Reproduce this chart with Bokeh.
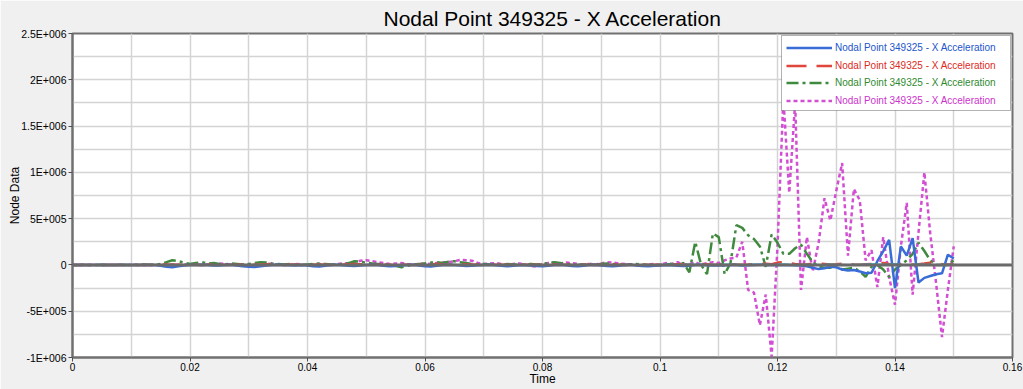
from bokeh.plotting import figure
from bokeh.models import Range1d, FixedTicker, Span, Legend, LegendItem, BoxAnnotation
from bokeh.embed import file_html
from bokeh.resources import INLINE

# ---------------- data (values in thousands) ----------------
time = [round(i * 0.001, 3) for i in range(151)]

blue_k = [
    0, 0, 0, 0, 0, 0, 0, 0, 0, 0,
    0, 0, 0, 0, 0, -10, -20, -25, -15, -5,
    0, 0, 3, 0, -5, -5, 0, 2, -5, -15,
    -20, -22, -15, -5, 0, 2, 0, -3, -5, 0,
    -5, -15, -18, -10, 0, 3, -3, -10, -12, -5,
    0, 2, 0, -8, -15, -12, -5, 0, 3, -5,
    -15, -18, -10, 0, 2, 0, -5, -12, -10, -3,
    0, 2, -3, -10, -15, -10, -3, 0, -5, -12,
    -15, -8, 0, 2, -3, -12, -15, -8, 0, 2,
    -5, -12, -15, -8, 0, 2, -5, -12, -15, -10,
    -5, 0, -3, -10, -12, -8, 0, 2, -3, -5,
    -5, -3, 0, -2, -5, -3, 0, 2, 0, -2,
    0, 2, 0, -3, -5, -15, -30, -45, -35, -20,
    -25, -50, -60, -55, -70, -90, -85, 40, 150, 270,
    -250, 200, 100, 290, -190, -140, -120, -100, -90, 110,
    70,
]

red_k = [
    0, 0, 0, 0, 0, 0, 0, 0, 0, 0,
    0, 0, 0, 0, 0, 2, 5, 3, 2, 0,
    3, 2, 0, 2, 5, 3, 0, 2, 3, 2,
    0, 2, 5, 8, 5, 2, 0, 3, 2, 0,
    2, 3, 5, 3, 0, 2, 5, 8, 10, 8,
    5, 3, 2, 0, 2, 3, 5, 3, 0, 2,
    5, 8, 10, 8, 5, 3, 5, 8, 5, 2,
    0, 2, 3, 2, 0, 2, 5, 3, 0, 2,
    3, 5, 8, 5, 3, 0, 2, 3, 2, 0,
    2, 3, 5, 3, 0, 2, 3, 2, 0, 2,
    0, 3, 5, 8, 5, 2, 5, 10, 8, 3,
    5, 8, 10, 5, 3, 5, 8, 10, 12, 8,
    25, 30, 20, 10, 5, 8, 12, 15, 10, 5,
    8, 12, 10, 5, 3, 8, 10, 15, 20, 10,
    5, 8, 10, 5, 8, 15, 25, 20, 10, 5,
    8,
]

green_k = [
    0, 0, 2, 0, 0, 3, 0, 0, 2, 0,
    0, 3, 5, 3, 0, 10, 30, 50, 40, 25,
    10, 20, 30, 15, 20, 10, 5, 15, 10, 5,
    10, 20, 30, 25, 15, 10, 5, 10, 5, 0,
    5, 10, 15, 10, 5, 0, 10, 20, 40, 35,
    25, 15, 10, 5, 0, -10, -25, -10, 5, 10,
    15, 25, 30, 20, 35, 40, 30, 20, 10, 5,
    10, 5, 0, 5, 10, 5, 0, 5, 10, 5,
    10, 20, 30, 20, 10, 5, 0, 5, 10, 5,
    10, 15, 10, 5, 0, 5, 10, 5, 0, -5,
    0, 5, 10, 5, 20, -80, 250, 0, -100, 340,
    300, -100, 20, 430, 400, 320, 280, 200, -20, 330,
    240, 120, 120, 180, 220, 120, 30, -20, -30, -30,
    0, -50, -40, -30, -70, -130, -20, 0, -50, -130,
    -50, 0, 50, 120, 240, 150, 50, 0, 0, 0,
    50,
]

pink_k = [
    0, 0, 0, 0, 0, 0, 0, 0, 0, 0,
    0, 0, 0, 0, 0, 5, 10, 5, 0, 5,
    10, 5, 0, 5, 10, 15, 10, 5, 0, 5,
    5, 0, 10, 15, 10, 5, 0, 5, 10, 5,
    0, 5, 10, 5, 0, 10, 15, 20, 30, 45,
    50, 40, 30, 20, 10, 15, 20, 10, 5, 10,
    15, 10, 20, 25, 30, 40, 55, 50, 45, 20,
    10, 15, 20, 10, 5, 10, 15, 5, -10, -20,
    10, 20, 25, 15, 25, 20, 10, 5, 10, 5,
    15, 30, 25, 15, 10, 5, 0, -5, 5, 10,
    0, 20, 10, 30, 0, 10, 30, 0, 20, 30,
    20, 50, 70, 80, 250, -270, -300, -650, -320, -990,
    200, 1800, 780, 1750, -270, 300, -70, 240, 720, 480,
    800, 1100, 100, 820, 700, 50, 160, -240, 300, -130,
    -430, 200, 670, -320, 350, 1000, 340, -200, -780, -270,
    200,
]

cyan_k = [
    0, 0, 0, 0, 0, 0, 0, 0, 0, 0,
    0, 0, 2, 0, 0, 2, 3, 2, 0, 0,
    2, 0, 0, 2, 3, 2, 0, 0, 2, 0,
    0, 2, 3, 2, 0, 0, 2, 0, 0, 2,
    3, 2, 0, 0, 2, 0, 0, 2, 3, 2,
    0, 0, 2, 0, 0, 2, 3, 2, 0, 0,
    2, 0, 0, 2, 3, 2, 0, 0, 2, 0,
    0, 2, 3, 2, 0, 0, 2, 0, 0, 2,
    3, 2, 0, 0, 2, 0, 0, 2, 3, 2,
    0, 0, 2, 0, 0, 2, 3, 2, 0, 0,
    3, 5, 5, 3, 5, 8, 5, 5, 3, 5,
    5, 8, 5, 5, 3, 5, 8, 5, 5, 3,
    5, 8, 5, 3, 5, 5, 5, 3, 5, 8,
    5, 5, 3, 5, 5, 8, 10, 8, 5, 5,
    10, 5, 3, 5, 8, 5, 5, 3, 5, 5,
    5,
]

series_label = "Nodal Point 349325 - X Acceleration"

x_ticks = [0, 0.02, 0.04, 0.06, 0.08, 0.1, 0.12, 0.14, 0.16]
x_tick_labels = ["0", "0.02", "0.04", "0.06", "0.08", "0.1", "0.12", "0.14", "0.16"]
x_minor = [0.01, 0.03, 0.05, 0.07, 0.09, 0.11, 0.13, 0.15]
y_ticks = [-1e6, -5e5, 0, 5e5, 1e6, 1.5e6, 2e6, 2.5e6]
y_tick_labels = ["-1E+006", "-5E+005", "0", "5E+005", "1E+006", "1.5E+006", "2E+006", "2.5E+006"]
y_minor = [-7.5e5, -2.5e5, 2.5e5, 7.5e5, 1.25e6, 1.75e6, 2.25e6]

def scale(vals):
    return [v * 1000 for v in vals]

FONT = "Liberation Sans"

p = figure(width=1023, height=389, output_backend="svg", toolbar_location=None,
           x_range=Range1d(0, 0.16), y_range=Range1d(-1e6, 2.5e6),
           min_border_left=72, min_border_right=11, min_border_top=33, min_border_bottom=32,
           background_fill_color="white", border_fill_color="#f0f0f0",
           outline_line_color="#707070", outline_line_width=2)

p.title.text = "Nodal Point 349325 - X Acceleration"
p.title.align = "left"
p.title.offset = 311
p.title.text_font = FONT
p.title.text_font_size = "21px"
p.title.text_font_style = "normal"
p.title.text_color = "black"
p.title.standoff = 7

p.xaxis.ticker = FixedTicker(ticks=x_ticks, minor_ticks=x_minor)
p.yaxis.ticker = FixedTicker(ticks=y_ticks, minor_ticks=y_minor)
p.xaxis.major_label_overrides = {t: l for t, l in zip(x_ticks, x_tick_labels)}
p.yaxis.major_label_overrides = {t: l for t, l in zip(y_ticks, y_tick_labels)}

for ax in (p.xaxis, p.yaxis):
    ax.axis_line_color = "#707070"
    ax.axis_line_width = 2
    ax.major_tick_line_color = "#505050"
    ax.major_tick_out = 4
    ax.major_tick_in = 0
    ax.minor_tick_line_color = None
    ax.major_label_text_font = FONT
    ax.major_label_text_color = "black"
    ax.axis_label_text_font = FONT
    ax.axis_label_text_font_style = "normal"
    ax.axis_label_text_color = "black"

p.xaxis.major_label_text_font_size = "10px"
p.yaxis.major_label_text_font_size = "10.5px"

p.xaxis.axis_label = "Time"
p.xaxis.axis_label_text_font_size = "12px"
p.xaxis.major_label_standoff = 1
p.xaxis.axis_label_standoff = -2
p.yaxis.axis_label = "Node Data"
p.yaxis.axis_label_text_font_size = "12px"
p.yaxis.major_label_standoff = 2
p.yaxis.axis_label_standoff = -4

for g in (p.xgrid, p.ygrid):
    g.grid_line_color = "#d4d4d4"
    g.grid_line_width = 1.5
    g.minor_grid_line_color = "#d4d4d4"
    g.minor_grid_line_width = 1.5

r_pink = p.line(time, scale(pink_k), line_color="#d24ed2", line_width=2.5, line_dash="4 3")
r_green = p.line(time, scale(green_k), line_color="#3f8a3f", line_width=2.5, line_dash="12 4 3 4")
r_red = p.line(time, scale(red_k), line_color="#e0463c", line_width=2.5, line_dash="20 10")
r_blue = p.line(time, scale(blue_k), line_color="#3a6cd8", line_width=2.5)
r_cyan = p.line(time, scale(cyan_k), line_color="#20b8c8", line_width=1.5)

p.add_layout(Span(location=0, dimension="width", line_color="#6a6a6a", line_width=3))

# legend box (screen units relative to the plot frame)
p.add_layout(BoxAnnotation(left=709, right=938, bottom=247, top=322,
                           left_units="screen", right_units="screen",
                           bottom_units="screen", top_units="screen",
                           fill_color="white", fill_alpha=1.0,
                           line_color="black", line_width=1))

entries = [
    (r_blue, "#2255cc"),
    (r_red, "#dd2a1e"),
    (r_green, "#2f8a2f"),
    (r_pink, "#cc33cc"),
]
for i, (r, tc) in enumerate(entries):
    leg = Legend(items=[LegendItem(label=series_label, renderers=[r])],
                 location=(714, 302 - i * 17.5),
                 border_line_color=None, background_fill_alpha=0,
                 padding=0, margin=0, spacing=0,
                 glyph_width=46, glyph_height=15, label_height=15,
                 label_standoff=3, label_text_font=FONT,
                 label_text_font_size="10px", label_text_color=tc)
    p.add_layout(leg)

html = file_html(p, INLINE)
html = html.replace("<body>", '<body style="background-color:#f0f0f0;">', 1)
open("out.html", "w").write(html)
